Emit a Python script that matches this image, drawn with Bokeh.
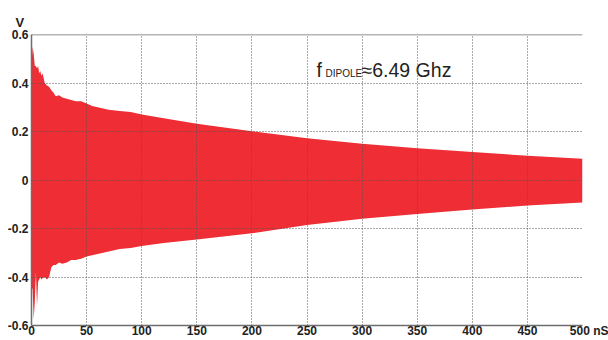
from bokeh.plotting import figure
from bokeh.models import Range1d, FixedTicker, Label, Span
from bokeh.embed import file_html
from bokeh.resources import INLINE

# Envelope of the dipole ringing signal
t_ns = [0, 1, 2, 3, 4, 5, 6, 7, 8, 9, 10, 12, 14, 16, 18, 20, 22, 25, 28, 32,
        36, 40, 45, 50, 55, 60, 70, 80, 90, 100, 120, 150, 200, 250, 300, 350,
        400, 450, 500]
upper_v = [0.47, 0.55, 0.52, 0.47, 0.47, 0.46, 0.47, 0.44, 0.45, 0.43, 0.44,
           0.40, 0.39, 0.385, 0.37, 0.36, 0.345, 0.35, 0.34, 0.335, 0.33, 0.325,
           0.325, 0.315, 0.305, 0.30, 0.29, 0.285, 0.28, 0.27, 0.255, 0.232,
           0.201, 0.172, 0.15, 0.131, 0.115, 0.10, 0.088]
lower_v = [-0.44, -0.45, -0.575, -0.50, -0.38, -0.52, -0.42, -0.41, -0.40,
           -0.41, -0.405, -0.40, -0.41, -0.40, -0.36, -0.35, -0.35, -0.34,
           -0.345, -0.34, -0.33, -0.33, -0.325, -0.315, -0.31, -0.305, -0.295,
           -0.285, -0.28, -0.272, -0.26, -0.245, -0.22, -0.186, -0.16, -0.14,
           -0.122, -0.105, -0.093]

x_ticks = [0, 50, 100, 150, 200, 250, 300, 350, 400, 450, 500]
x_tick_labels = ["0", "50", "100", "150", "200", "250", "300", "350", "400",
                 "450", "\u00a0\u00a0\u00a0\u00a0500 nS"]
y_ticks = [-0.6, -0.4, -0.2, 0, 0.2, 0.4, 0.6]
y_tick_labels = ["-0.6", "-0.4", "-0.2", "0", "0.2", "0.4", "0.6"]

RED = "#EE2D34"
INK = "#222222"

p = figure(width=608, height=340, output_backend="svg", toolbar_location=None,
           x_range=Range1d(0, 500), y_range=Range1d(-0.6, 0.6),
           min_border_left=31, min_border_right=26, min_border_top=34,
           min_border_bottom=14)
p.outline_line_color = None
p.background_fill_color = "white"

p.title.text = "V"
p.title.align = "left"
p.title.offset = -16
p.title.standoff = 9
p.title.text_font = "Liberation Sans"
p.title.text_font_style = "bold"
p.title.text_font_size = "13px"
p.title.text_color = INK

p.varea(x=t_ns, y1=lower_v, y2=upper_v, fill_color=RED, fill_alpha=1.0)

for ax in (p.xaxis[0], p.yaxis[0]):
    ax.axis_line_color = "#6e6e6e"
    ax.axis_line_width = 1.5
    ax.major_tick_out = 0
    ax.major_tick_in = 0
    ax.minor_tick_out = 0
    ax.minor_tick_in = 0
    ax.major_label_text_font = "Liberation Sans"
    ax.major_label_text_font_style = "bold"
    ax.major_label_text_font_size = "12px"
    ax.major_label_text_color = INK
    ax.major_label_standoff = 3

p.xaxis[0].ticker = FixedTicker(ticks=x_ticks)
p.xaxis[0].major_label_overrides = {v: s for v, s in zip(x_ticks, x_tick_labels)}
p.xaxis[0].major_label_standoff = -2
p.yaxis[0].ticker = FixedTicker(ticks=y_ticks)
p.yaxis[0].major_label_overrides = {v: s for v, s in zip(y_ticks, y_tick_labels)}

for g in (p.xgrid[0], p.ygrid[0]):
    g.grid_line_color = "#555555"
    g.grid_line_dash = "1 2"
    g.grid_line_width = 1
    g.level = "overlay"

p.add_layout(Span(location=0.6, dimension="width", line_color="#6e6e6e", line_width=1.5))

p.add_layout(Label(x=258.6, y=0.4256, y_offset=-4, text="f", text_font="Liberation Sans",
                   text_font_size="19.5px", text_color=INK,
                   text_baseline="bottom"))
p.add_layout(Label(x=266.8, y=0.4256, y_offset=-2, text="DIPOLE", text_font="Liberation Sans",
                   text_font_size="10px", text_color=INK,
                   text_baseline="bottom"))
p.add_layout(Label(x=299.5, y=0.4256, y_offset=-4, text="\u22486.49 Ghz", text_font="Liberation Sans",
                   text_font_size="19.5px", text_color=INK,
                   text_baseline="bottom"))

open("out.html", "w").write(file_html(p, INLINE))
